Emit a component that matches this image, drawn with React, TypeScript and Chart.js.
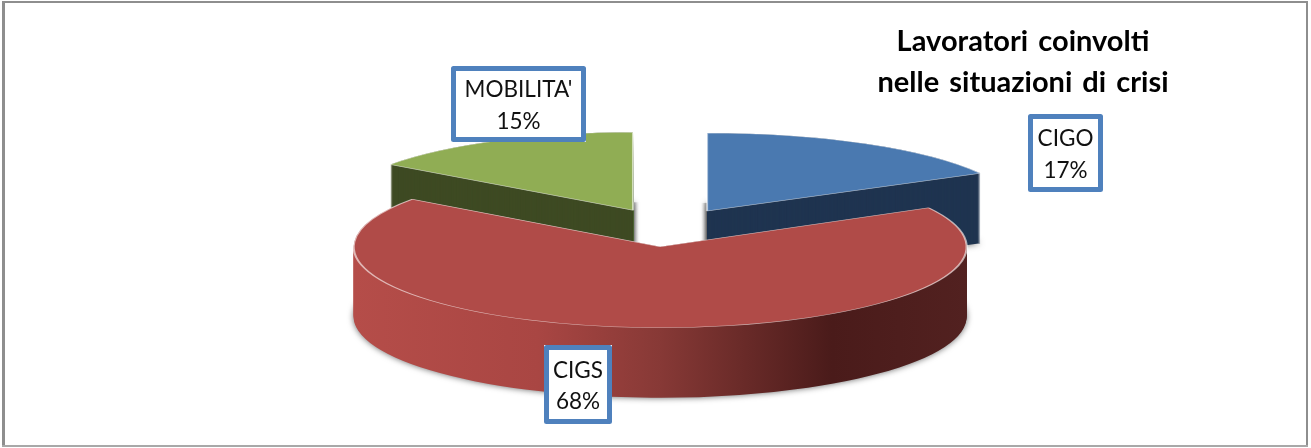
import React, { useEffect, useRef } from "react";
import { Chart, registerables } from "chart.js";

Chart.register(...registerables);

const categories = ["CIGO", "CIGS", "MOBILITA'"];
const shares = [17, 68, 15];
const titleLines = ["Lavoratori coinvolti", "nelle situazioni di crisi"];

const topColors = ["#4a79b0", "#b04b48", "#90ad54"];
const wallColors = ["#1f3450", null, "#3e4a23"];
const redWallStops: [number, string][] = [
  [0, "#b54d49"],
  [0.3, "#a94643"],
  [0.5, "#873936"],
  [0.78, "#4a1b1a"],
  [1, "#522120"],
];

const CX = 667;
const CY = 228;
const TILT = 0.258;
const EXPLODE = 77;
const DEPTH = 70;
const DRAW_ORDER = [0, 2, 1];
const VIEW = [
  { dx: 0.8, dy: 0, rx: 312, tilt: 0.25, strip: -1 },
  { dx: -2, dy: -1, rx: 306.5, tilt: 0.264, strip: 0 },
  { dx: 1, dy: 0, rx: 300, tilt: 0.26, strip: 1 },
];

const BOXES = [
  { x: 1028, y: 114, w: 75, h: 78 },
  { x: 544, y: 345, w: 68, h: 79 },
  { x: 451, y: 66, w: 135, h: 76 },
];

const apexOf = (arc: any, i: number) => {
  const mid = (arc.startAngle + arc.endAngle) / 2;
  return {
    x: CX + Math.cos(mid) * EXPLODE + VIEW[i].dx,
    y: CY + Math.sin(mid) * EXPLODE * TILT + VIEW[i].dy,
  };
};

const place = (ctx: CanvasRenderingContext2D, arc: any, i: number, dy: number) => {
  const a = apexOf(arc, i);
  const s = VIEW[i].rx / arc.outerRadius;
  ctx.translate(a.x, a.y + dy);
  ctx.scale(s, s * VIEW[i].tilt);
  ctx.translate(-arc.x, -arc.y);
};

const pie3d = {
  id: "pie3d",
  beforeDatasetsDraw(chart: any) {
    const ctx: CanvasRenderingContext2D = chart.ctx;
    const arcs = chart.getDatasetMeta(0).data;
    for (const i of DRAW_ORDER) {
      const arc = arcs[i];
      const strip = VIEW[i].strip;
      if (strip !== 0) {
        const a = apexOf(arc, i);
        const g = ctx.createLinearGradient(a.x, 0, a.x + strip * 6, 0);
        g.addColorStop(0, "rgba(120,120,120,0.9)");
        g.addColorStop(1, "rgba(200,200,200,0)");
        ctx.fillStyle = g;
        ctx.fillRect(strip > 0 ? a.x : a.x - 6, a.y - 8, 6, 42);
      }
      let fill: any = wallColors[i];
      if (!fill) {
        const g = ctx.createLinearGradient(arc.x - arc.outerRadius, 0, arc.x + arc.outerRadius, 0);
        redWallStops.forEach(([p, c]) => g.addColorStop(p, c));
        fill = g;
      }
      const wall = Object.create(arc);
      wall.options = { ...arc.options, backgroundColor: fill, borderWidth: 0 };
      ctx.save();
      ctx.shadowColor = "rgba(0,0,0,0.6)";
      ctx.shadowBlur = 6;
      ctx.save();
      place(ctx, arc, i, DEPTH);
      wall.draw(ctx);
      ctx.restore();
      ctx.shadowColor = "transparent";
      ctx.shadowBlur = 0;
      for (let d = DEPTH - 1; d >= 0; d--) {
        ctx.save();
        place(ctx, arc, i, d);
        wall.draw(ctx);
        ctx.restore();
      }
      ctx.save();
      place(ctx, arc, i, 0);
      arc.draw(ctx);
      ctx.restore();
      ctx.restore();
    }
    return false;
  },
  afterDraw(chart: any) {
    const ctx: CanvasRenderingContext2D = chart.ctx as any;
    ctx.save();
    ctx.fillStyle = "#8e8e8e";
    ctx.fillRect(2, 1, 3, 446);
    ctx.fillRect(2, 1, 1306, 2);
    ctx.fillRect(1306, 1, 2, 446);
    ctx.fillStyle = "#a8a8a8";
    ctx.fillRect(2, 445, 1306, 2);

    ctx.textAlign = "center";
    ctx.textBaseline = "middle";
    ctx.fillStyle = "#000000";
    ctx.font = "bold 29px Lato";
    (ctx as any).wordSpacing = "3px";
    titleLines.forEach((t, i) => ctx.fillText(t, 1023, 42 + i * 41));
    (ctx as any).wordSpacing = "0px";

    BOXES.forEach((b, i) => {
      ctx.fillStyle = "#ffffff";
      ctx.fillRect(b.x, b.y, b.w, b.h);
      ctx.strokeStyle = "#4f81bd";
      ctx.lineWidth = 5;
      ctx.lineJoin = "round";
      ctx.strokeRect(b.x + 2.5, b.y + 2.5, b.w - 5, b.h - 5);
      ctx.fillStyle = "#111111";
      ctx.font = "22.5px Lato";
      const mx = b.x + b.w / 2;
      const my = b.y + b.h / 2;
      ctx.fillText(categories[i], mx, my - 14);
      ctx.fillText(`${shares[i]}%`, mx, my + 17.5);
    });
    ctx.restore();
  },
};

export default function App() {
  const ref = useRef<HTMLCanvasElement>(null);
  useEffect(() => {
    const chart = new Chart(ref.current!, {
      type: "pie",
      data: {
        labels: categories,
        datasets: [
          {
            data: shares,
            backgroundColor: topColors,
            borderColor: "rgba(255,255,255,0.6)",
            borderWidth: 1.6,
          },
        ],
      },
      options: {
        animation: false,
        responsive: false,
        devicePixelRatio: 1,
        events: [],
        plugins: { legend: { display: false }, title: { display: false }, tooltip: { enabled: false } },
      },
      plugins: [pie3d],
    } as any);
    return () => chart.destroy();
  }, []);
  return (
    <canvas
      ref={ref}
      width={1311}
      height={448}
      style={{ position: "absolute", left: 0, top: 0, width: 1311, height: 448, display: "block", background: "#fff", filter: "blur(0.4px)" }}
    />
  );
}
